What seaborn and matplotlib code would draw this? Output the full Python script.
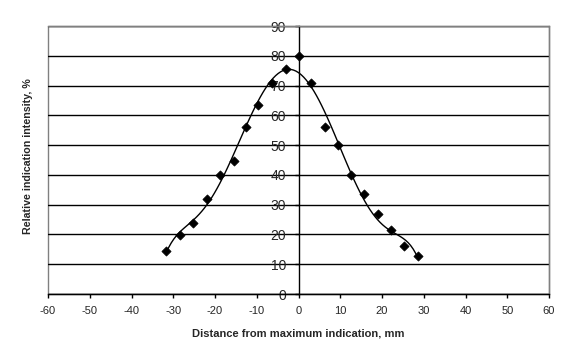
import matplotlib
matplotlib.use("Agg")
import matplotlib.pyplot as plt
import seaborn as sns
import numpy as np
import pandas as pd

distance_mm = [-31.7, -28.4, -25.2, -21.9, -18.8, -15.5, -12.6, -9.6, -6.4, -3.0,
               0.0, 2.9, 6.3, 9.4, 12.5, 15.6, 19.0, 22.1, 25.3, 28.7]
intensity_pct = [14.3, 19.9, 23.8, 31.8, 39.8, 44.5, 56.1, 63.4, 71.0, 75.5,
                 79.9, 71.0, 56.1, 50.2, 39.9, 33.7, 26.7, 21.4, 16.1, 12.6]
x_ticks = list(range(-60, 61, 10))
y_ticks = list(range(0, 91, 10))
x_label = "Distance from maximum indication, mm"
y_label = "Relative indication intensity, %"

df = pd.DataFrame({"x": distance_mm, "y": intensity_pct})

sns.set_style("white")
plt.rcParams["font.family"] = ["Liberation Sans", "DejaVu Sans"]

fig = plt.figure(figsize=(5.76, 3.6), dpi=100)
ax = fig.add_axes([48/576, 1-294/360, (549-48)/576, (294-26)/360])

# trendline (polynomial fit)
sns.regplot(data=df, x="x", y="y", order=6, ci=None, scatter=False, truncate=True,
            line_kws=dict(color="black", lw=1), ax=ax)
sns.scatterplot(data=df, x="x", y="y", marker="D", s=22, color="black",
                edgecolor="black", linewidth=0.5, ax=ax, zorder=5)

ax.set_xlim(-60, 60)
ax.set_ylim(0, 90)
ax.set_xticks(x_ticks)
ax.set_yticks(y_ticks)
ax.set_xticklabels([str(v) for v in x_ticks], fontsize=8)
ax.set_yticklabels([str(v) for v in y_ticks], fontsize=8)

ax.yaxis.grid(True, color="black", lw=1)
ax.xaxis.grid(False)
ax.set_axisbelow(True)
gls = ax.yaxis.get_gridlines()
gls[-1].set_visible(False)
gls[0].set_visible(False)

# frame
ax.patch.set_edgecolor("#808080")
ax.patch.set_linewidth(1.0)
for s in ["top", "right"]:
    ax.spines[s].set_visible(True)
    ax.spines[s].set_color("#808080")
    ax.spines[s].set_linewidth(1)
ax.spines["left"].set_position(("data", 0))
ax.spines["left"].set_color("black")
ax.spines["left"].set_linewidth(1)
ax.spines["bottom"].set_color("black")
ax.spines["bottom"].set_linewidth(1)

ax.tick_params(axis="x", direction="out", length=3, width=1, color="black", pad=6,
               bottom=True)
ax.tick_params(axis="y", direction="out", length=3, width=1, color="black", pad=6,
               left=True)

ax.set_xlabel(x_label, fontsize=8, fontweight="bold", labelpad=9)
ax.set_ylabel("")
fig.text(28/576, 1-156/360, y_label, rotation=90, fontsize=7.7, fontweight="bold",
         ha="center", va="center")

fig.savefig("out.png", dpi=100)
